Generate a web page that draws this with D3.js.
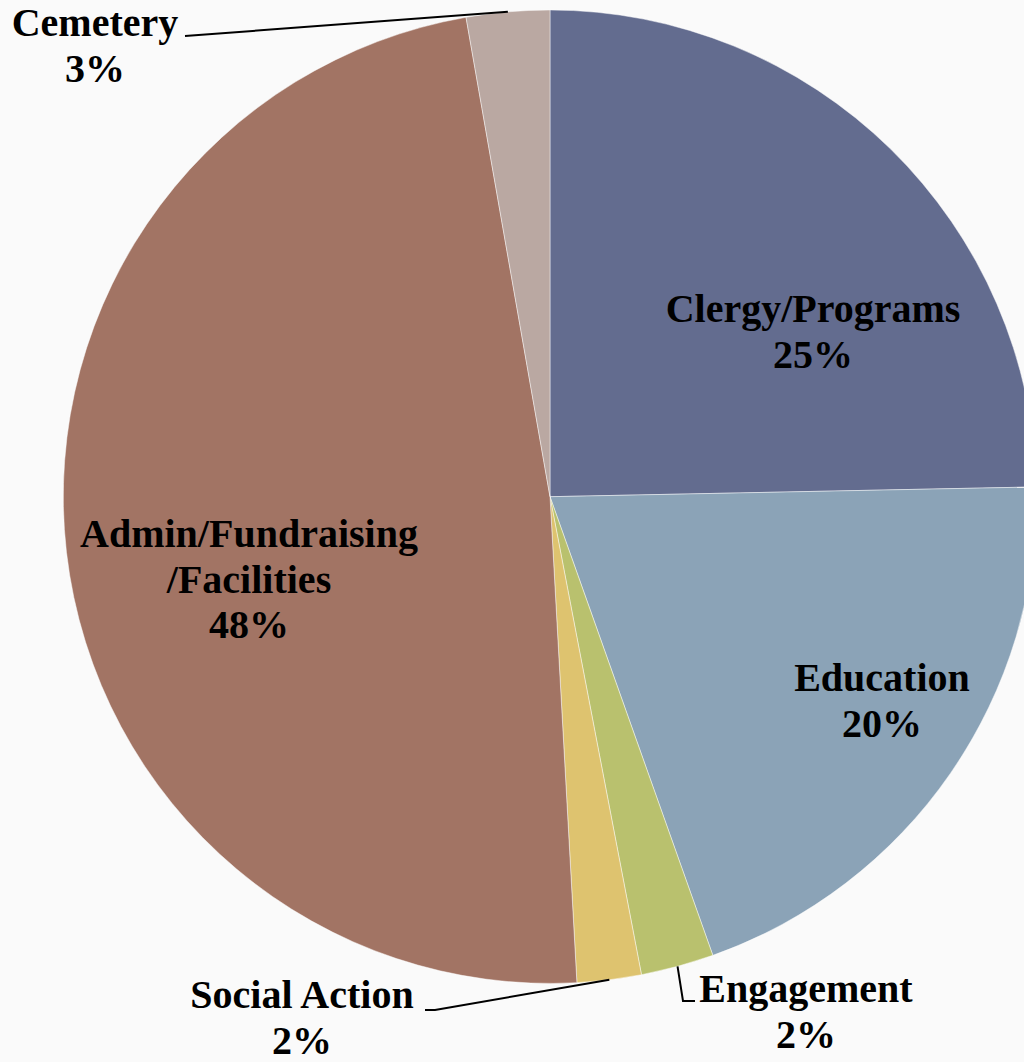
<!DOCTYPE html>
<html lang="en">
<head>
    <meta charset="UTF-8">
    <title>budget pie</title>
    <style>
        body { margin: 0; background: #fafafa; }
        svg text { font-family: "Liberation Serif", "Times New Roman", serif; font-weight: bold; font-size: 40px; fill: #000; }
    </style>
</head>
<body>
<script src="https://d3js.org/d3.v7.min.js"></script>
<script>
    // data (percent of total, clockwise from 12 o'clock)
    var categories = ["Clergy/Programs", "Education", "Engagement", "Social Action", "Admin/Fundraising/Facilities", "Cemetery"];
    var shares = [24.68, 19.89, 2.42, 2.13, 48.12, 2.76];
    var labelLines = [["Clergy/Programs"], ["Education"], ["Engagement"], ["Social Action"], ["Admin/Fundraising", "/Facilities"], ["Cemetery"]];
    var colors = ["#636c8f", "#8ba3b7", "#b9c16e", "#dec36f", "#a27464", "#baa8a2"];

    // label layout: centre x and first baseline, plus leader line bends
    var labelPos = [[813, 322], [882, 691], [806, 1002], [302, 1008], [249, 547], [95, 36]];
    var leaders = [null, null, [[683, 1001], [695, 1001]], [[435, 1010], [425, 1010]], null, [[185, 36]]];

    var width = 1024, height = 1062;
    var cx = 550, cy = 496.7, radius = 486.7;
    var lineGap = 45.5;

    var svg = d3.select("body").append("svg").attr("width", width).attr("height", height);
    var g = svg.append("g").attr("transform", "translate(" + cx + "," + cy + ")");

    var pie = d3.pie().sort(null).value(function (d) { return d; });
    var arcs = pie(shares);
    var arc = d3.arc().innerRadius(0).outerRadius(radius);
    var rim = d3.arc().innerRadius(radius).outerRadius(radius);
    var pct = d3.format(".0%");

    g.selectAll(".slice").data(arcs).enter().append("path")
        .attr("class", "slice")
        .attr("d", arc)
        .attr("fill", function (d, i) { return colors[i]; })
        .attr("stroke", "rgba(255,255,255,0.45)")
        .attr("stroke-width", 1);

    // leader lines from the slice middle on the rim
    var line = d3.line();
    arcs.forEach(function (d, i) {
        if (!leaders[i]) return;
        var c = rim.centroid(d);
        var pts = [[c[0] + cx, c[1] + cy]].concat(leaders[i]);
        svg.append("path")
            .attr("d", line(pts))
            .attr("fill", "none")
            .attr("stroke", "#000")
            .attr("stroke-width", 2);
    });

    var labels = svg.selectAll(".label").data(arcs).enter().append("text")
        .attr("class", "label")
        .attr("text-anchor", "middle");

    labels.each(function (d, i) {
        var t = d3.select(this);
        var rows = labelLines[i].concat([pct(d.value / 100)]);
        rows.forEach(function (r, k) {
            t.append("tspan")
                .attr("x", labelPos[i][0])
                .attr("y", labelPos[i][1] + k * lineGap)
                .text(r);
        });
    });
</script>
</body>
</html>
